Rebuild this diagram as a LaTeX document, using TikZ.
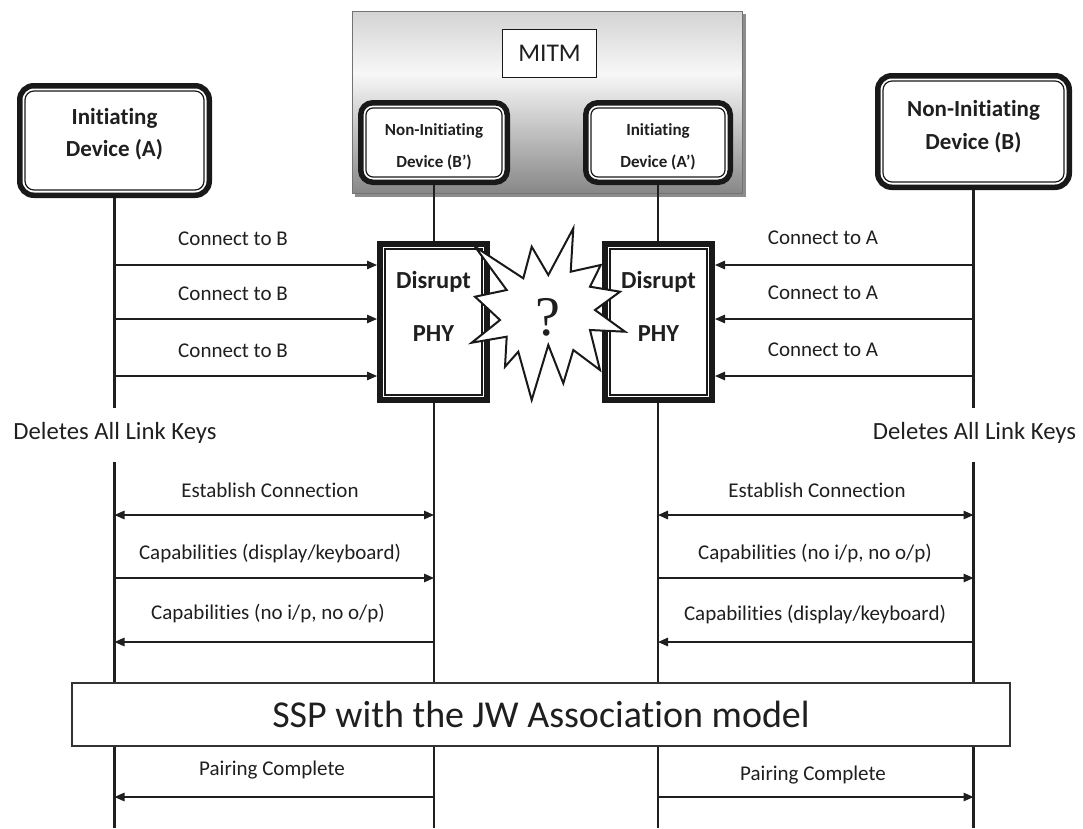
\documentclass[tikz,border=0pt]{standalone}
\usepackage{fontspec}
\setmainfont{Carlito}[Ligatures=NoCommon, RawFeature={-liga;-clig;-calt;-dlig}]
\newfontfamily\qfont{Liberation Serif}
\usetikzlibrary{arrows.meta}

% vertical grey gradient of the attacker box (0bp = bottom)
\pgfdeclareverticalshading{mitmshade}{100bp}{%
  color(0bp)=(black!47); color(25bp)=(black!47);
  color(58bp)=(black!3);
  color(75bp)=(black!17); color(100bp)=(black!17)}

\begin{document}
\begin{tikzpicture}[x=1pt,y=-1pt,
  life/.style={line width=2.6pt, draw=black!88},
  tip/.tip={Triangle[length=10pt,width=8.5pt]},
  msg/.style={line width=1.4pt, draw=black!88, -tip},
  bimsg/.style={line width=1.4pt, draw=black!88, tip-tip},
  lbl/.style={font=\fontsize{21}{25}\selectfont, text=black!88, inner sep=0pt},
  devbox/.style={draw=black!90, line width=5.5pt, rounded corners=14pt, fill=white, inner sep=0pt},
  devtext/.style={align=center, text=black!88, inner sep=0pt},
  phybox/.style={draw=black!90, line width=6pt, fill=white, inner sep=0pt},
  innerline/.style={draw=black!90, line width=1.2pt},
]
\useasboundingbox (0,0) rectangle (1083,828);

% ---------- attacker (MITM) box ----------
\fill[black!45] (355,14) rectangle (746,197);
\node[draw=black!55, line width=1.2pt, shading=mitmshade, minimum width=389.8pt, minimum height=181.8pt, inner sep=0pt, outer sep=0pt] (mitm) at (547.5,102.5) {};
\node[draw=black!90, line width=1pt, fill=white, minimum width=94pt, minimum height=48pt, inner sep=0pt,
      font=\fontsize{25.5}{30}\selectfont, text=black!88] (mitmlabel) at (549.5,53.5) {MITM};

% ---------- device boxes ----------
\node[devbox, minimum width=189.5pt, minimum height=109.5pt] (A) at (114.5,140.5) {};
\node[devbox, minimum width=191.5pt, minimum height=111.5pt] (B) at (973.5,131.5) {};
\node[devbox, rounded corners=12pt, minimum width=146.5pt, minimum height=79.5pt] (Bp) at (434,142.5) {};
\node[devbox, rounded corners=12pt, minimum width=144.5pt, minimum height=79.5pt] (Ap) at (658,142.5) {};
\foreach \n/\r in {A/9, B/9, Bp/7, Ap/7}{
  \draw[innerline, rounded corners=\r pt] ([shift={(8,8)}]\n.north west) rectangle ([shift={(-8,-8)}]\n.south east);
}
\node[devtext, font=\bfseries\fontsize{23}{32}\selectfont] (Atext) at (A.center |- 0,134) {Initiating\\Device (A)};
\node[devtext, font=\bfseries\fontsize{23}{33}\selectfont] (Btext) at (B.center |- 0,126.5) {Non-Initiating\\Device (B)};
\node[devtext, font=\bfseries\fontsize{17}{32}\selectfont] (Bptext) at (Bp.center |- 0,147) {Non-Initiating\\Device (B’)};
\node[devtext, font=\bfseries\fontsize{17}{32}\selectfont] (Aptext) at (Ap.center |- 0,147) {Initiating\\Device (A’)};

% ---------- PHY disruption boxes ----------
\node[phybox, minimum width=107pt, minimum height=156pt] (DL) at (433.5,322) {};
\node[phybox, minimum width=107pt, minimum height=156pt] (DR) at (658.5,322) {};
\foreach \n in {DL, DR}{
  \draw[innerline] ([shift={(8,8)}]\n.north west) rectangle ([shift={(-8,-8)}]\n.south east);
}
\node[devtext, font=\bfseries\fontsize{24.5}{53}\selectfont] (DLtext) at (DL.center |- 0,306.5) {Disrupt\\PHY};
\node[devtext, font=\bfseries\fontsize{24.5}{53}\selectfont] (DRtext) at (DR.center |- 0,306.5) {Disrupt\\PHY};

% ---------- lifelines ----------
\draw[life] (A.south) -- (A.south |- 0,408);
\draw[life] (A.south |- 0,462) -- (A.south |- 0,828);
\draw[life] (B.south) -- (B.south |- 0,408);
\draw[life] (B.south |- 0,462) -- (B.south |- 0,828);
\draw[life] (Bp.south) -- (Bp.south |- DL.north);
\draw[life] (Bp.south |- DL.south) -- (Bp.south |- 0,828);
\draw[life] (Ap.south) -- (Ap.south |- DR.north);
\draw[life] (Ap.south |- DR.south) -- (Ap.south |- 0,828);

% ---------- collision burst ----------
\draw[line width=2pt, draw=black!90, fill=white, line join=miter, miter limit=20]
  (573.3,228.3) -- (570.7,271.7) -- (600.7,265) -- (590,286.7) -- (620,291.7) -- (595,310)
  -- (625,331.7) -- (590,330) -- (600,370) -- (573.3,350) -- (563.3,383.3) -- (548.3,345)
  -- (531.7,400) -- (518.3,351.7) -- (505,366.7) -- (506.7,336.7) -- (471.7,342.7) -- (500,320)
  -- (475,296.7) -- (506.7,290) -- (475,246.7) -- (523.3,278.3) -- (531.7,246.7) -- (548.3,275) -- cycle;
\node[font=\qfont\fontsize{56}{60}\selectfont, text=black!88, inner sep=0pt] (q) at (548,317) {?};

% ---------- connection attempts ----------
\foreach \y/\ly in {265/239, 319/294, 376/351}{
  \draw[msg] (A.south |- 0,\y) -- (DL.west |- 0,\y);
  \node[lbl] at (233,\ly) {Connect to B};
  \draw[msg] (B.south |- 0,\y) -- (DR.east |- 0,\y);
  \node[lbl] at (823,\ly-1) {Connect to A};
}
\node[font=\fontsize{24.7}{28}\selectfont, text=black!88, inner sep=0pt] (delA) at (115,433) {Deletes All Link Keys};
\node[font=\fontsize{24.7}{28}\selectfont, text=black!88, inner sep=0pt] (delB) at (974.5,433) {Deletes All Link Keys};

% ---------- left exchange (A <-> B') ----------
\draw[bimsg] (A.south |- 0,515) -- (Bp.south |- 0,515);
\node[lbl] at (270,490) {Establish Connection};
\draw[msg] (A.south |- 0,578) -- (Bp.south |- 0,578);
\node[lbl] at (270,553) {Capabilities (display/keyboard)};
\draw[msg] (Bp.south |- 0,642) -- (A.south |- 0,642);
\node[lbl] at (268,613) {Capabilities (no i/p, no o/p)};

% ---------- right exchange (A' <-> B) ----------
\draw[bimsg] (Ap.south |- 0,515) -- (B.south |- 0,515);
\node[lbl] at (817,490) {Establish Connection};
\draw[msg] (Ap.south |- 0,578) -- (B.south |- 0,578);
\node[lbl] at (815,553) {Capabilities (no i/p, no o/p)};
\draw[msg] (B.south |- 0,642) -- (Ap.south |- 0,642);
\node[lbl] at (815,614) {Capabilities (display/keyboard)};

% ---------- SSP band ----------
\node[draw=black!80, line width=1.2pt, fill=white, minimum width=938pt, minimum height=63pt, inner sep=0pt,
      font=\fontsize{38}{44}\selectfont, text=black!88] (ssp) at (541,714.5) {SSP with the JW Association model};

% ---------- pairing results ----------
\draw[msg] (Bp.south |- 0,797) -- (A.south |- 0,797);
\node[lbl] at (272,770) {Pairing Complete};
\draw[msg] (Ap.south |- 0,797) -- (B.south |- 0,797);
\node[lbl] at (813,775) {Pairing Complete};
\end{tikzpicture}
\end{document}
